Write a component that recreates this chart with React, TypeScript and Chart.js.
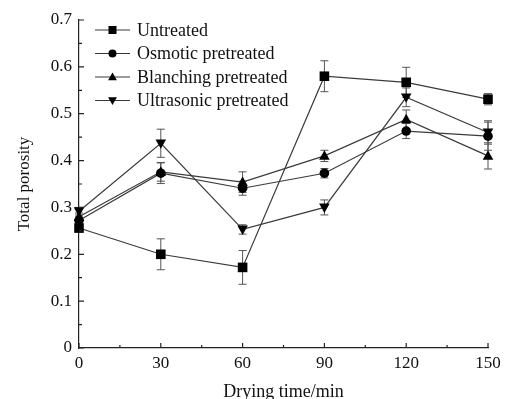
import React, { useEffect, useRef } from "react";
import { Chart, registerables } from "chart.js";

Chart.register(...registerables);

const times = [0, 30, 60, 90, 120, 150];
const seriesLabels = ["Untreated", "Osmotic pretreated", "Blanching pretreated", "Ultrasonic pretreated"];
const untreated = [0.256, 0.2, 0.172, 0.58, 0.567, 0.531];
const untreatedErr = [0.008, 0.033, 0.036, 0.033, 0.032, 0.012];
const osmotic = [0.272, 0.373, 0.341, 0.373, 0.463, 0.452];
const osmoticErr = [0.008, 0.022, 0.015, 0.01, 0.016, 0.03];
const blanching = [0.28, 0.376, 0.354, 0.41, 0.488, 0.41];
const blanchingErr = [0.008, 0.02, 0.022, 0.012, 0.02, 0.028];
const ultrasonic = [0.292, 0.437, 0.253, 0.3, 0.535, 0.46];
const ultrasonicErr = [0.008, 0.03, 0.01, 0.016, 0.02, 0.025];
const yTicks = [0, 0.1, 0.2, 0.3, 0.4, 0.5, 0.6, 0.7];
const xTicks = [0, 30, 60, 90, 120, 150];

const values = [untreated, osmotic, blanching, ultrasonic];
const errors = [untreatedErr, osmoticErr, blanchingErr, ultrasonicErr];
const shapes = ["rect", "circle", "triangle", "triangleDown"];

const FONT = "'Liberation Serif', 'Times New Roman', serif";
const LINE = "#3a3a3a";

function drawMarker(ctx: CanvasRenderingContext2D, shape: string, x: number, y: number, r: number) {
  ctx.beginPath();
  if (shape === "rect") {
    ctx.rect(x - r, y - r, 2 * r, 2 * r);
  } else if (shape === "circle") {
    ctx.arc(x, y, r, 0, Math.PI * 2);
  } else if (shape === "triangle") {
    ctx.moveTo(x, y - r * 1.15);
    ctx.lineTo(x + r * 1.1, y + r * 0.8);
    ctx.lineTo(x - r * 1.1, y + r * 0.8);
    ctx.closePath();
  } else {
    ctx.moveTo(x, y + r * 1.15);
    ctx.lineTo(x + r * 1.1, y - r * 0.8);
    ctx.lineTo(x - r * 1.1, y - r * 0.8);
    ctx.closePath();
  }
  ctx.fillStyle = "#000";
  ctx.fill();
}

const errorBarPlugin = {
  id: "errorBars",
  afterDatasetsDraw(chart: any) {
    const ctx = chart.ctx;
    const xs = chart.scales.x;
    const ys = chart.scales.y;
    ctx.save();
    ctx.strokeStyle = "#555";
    ctx.lineWidth = 1;
    errors.forEach((errs, d) => {
      errs.forEach((e, i) => {
        const x = xs.getPixelForValue(times[i]);
        const yt = ys.getPixelForValue(values[d][i] + e);
        const yb = ys.getPixelForValue(values[d][i] - e);
        ctx.beginPath();
        ctx.moveTo(x, yt);
        ctx.lineTo(x, yb);
        ctx.moveTo(x - 4, yt);
        ctx.lineTo(x + 4, yt);
        ctx.moveTo(x - 4, yb);
        ctx.lineTo(x + 4, yb);
        ctx.stroke();
      });
    });
    ctx.restore();
  },
};

const markerPlugin = {
  id: "markers",
  afterDatasetsDraw(chart: any) {
    const ctx = chart.ctx;
    const xs = chart.scales.x;
    const ys = chart.scales.y;
    ctx.save();
    values.forEach((vals, d) => {
      vals.forEach((v, i) => {
        drawMarker(ctx, shapes[d], xs.getPixelForValue(times[i]), ys.getPixelForValue(v), 4.8);
      });
    });
    ctx.restore();
  },
};

const axisTickPlugin = {
  id: "axisTicks",
  afterDraw(chart: any) {
    const ctx = chart.ctx;
    const xs = chart.scales.x;
    const ys = chart.scales.y;
    const left = chart.chartArea.left;
    const bottom = chart.chartArea.bottom;
    ctx.save();
    ctx.strokeStyle = "#222";
    ctx.lineWidth = 1.2;
    ctx.beginPath();
    for (let k = 0; k < yTicks.length; k++) {
      const y = ys.getPixelForValue(yTicks[k]);
      ctx.moveTo(left, y);
      ctx.lineTo(left + 5, y);
      if (k < yTicks.length - 1) {
        const ym = ys.getPixelForValue((yTicks[k] + yTicks[k + 1]) / 2);
        ctx.moveTo(left, ym);
        ctx.lineTo(left + 3, ym);
      }
    }
    for (let k = 0; k < xTicks.length; k++) {
      const x = xs.getPixelForValue(xTicks[k]);
      ctx.moveTo(x, bottom);
      ctx.lineTo(x, bottom - 5);
      if (k < xTicks.length - 1) {
        const xm = xs.getPixelForValue((xTicks[k] + xTicks[k + 1]) / 2);
        ctx.moveTo(xm, bottom);
        ctx.lineTo(xm, bottom - 3);
      }
    }
    ctx.stroke();
    ctx.restore();
  },
};

const legendPlugin = {
  id: "innerLegend",
  afterDraw(chart: any) {
    const ctx = chart.ctx;
    ctx.save();
    ctx.font = `18px ${FONT}`;
    ctx.textBaseline = "middle";
    ctx.textAlign = "left";
    seriesLabels.forEach((label, d) => {
      const y = 30 + d * 23.5;
      ctx.strokeStyle = LINE;
      ctx.lineWidth = 1.2;
      ctx.beginPath();
      ctx.moveTo(95, y);
      ctx.lineTo(130, y);
      ctx.stroke();
      drawMarker(ctx, shapes[d], 112.5, y, 4);
      ctx.fillStyle = "#111";
      ctx.fillText(label, 137, y + 1);
    });
    ctx.restore();
  },
};

export default function App() {
  const ref = useRef<HTMLCanvasElement>(null);
  useEffect(() => {
    document.body.style.margin = "0";
    const chart = new Chart(ref.current!, {
      type: "line",
      data: {
        datasets: values.map((vals, d) => ({
          label: seriesLabels[d],
          data: vals.map((v, i) => ({ x: times[i], y: v })),
          borderColor: LINE,
          borderWidth: 1.2,
          pointRadius: 0,
          fill: false,
          tension: 0,
          clip: false as any,
        })),
      },
      options: {
        animation: false,
        responsive: false,
        layout: { padding: { left: 9, right: 19, top: 20, bottom: 0 } },
        plugins: { legend: { display: false }, tooltip: { enabled: false } },
        scales: {
          x: {
            type: "linear",
            min: 0,
            max: 150,
            afterBuildTicks: (s: any) => {
              s.ticks = xTicks.map((v) => ({ value: v }));
            },
            afterFit: (s: any) => {
              s.height = 51;
            },
            grid: { drawOnChartArea: false, drawTicks: false },
            border: { display: true, color: "#222", width: 1.2 },
            ticks: { color: "#111", font: { family: FONT, size: 17 }, padding: 5, maxRotation: 0 },
            title: {
              display: true,
              text: "Drying time/min",
              color: "#111",
              font: { family: FONT, size: 18 },
              padding: { top: -4, bottom: -4 },
            },
          },
          y: {
            min: 0,
            max: 0.7,
            afterBuildTicks: (s: any) => {
              s.ticks = yTicks.map((v) => ({ value: v }));
            },
            afterFit: (s: any) => {
              s.width = 70;
            },
            grid: { drawOnChartArea: false, drawTicks: false },
            border: { display: true, color: "#222", width: 1.2 },
            ticks: { color: "#111", font: { family: FONT, size: 17 }, padding: 7 },
            title: {
              display: true,
              text: "Total porosity",
              color: "#111",
              font: { family: FONT, size: 17 },
              padding: { top: 5, bottom: 0 },
            },
          },
        },
      },
      plugins: [errorBarPlugin, markerPlugin, axisTickPlugin, legendPlugin],
    });
    return () => chart.destroy();
  }, []);
  return <canvas ref={ref} width={507} height={399} style={{ display: "block" }} />;
}
